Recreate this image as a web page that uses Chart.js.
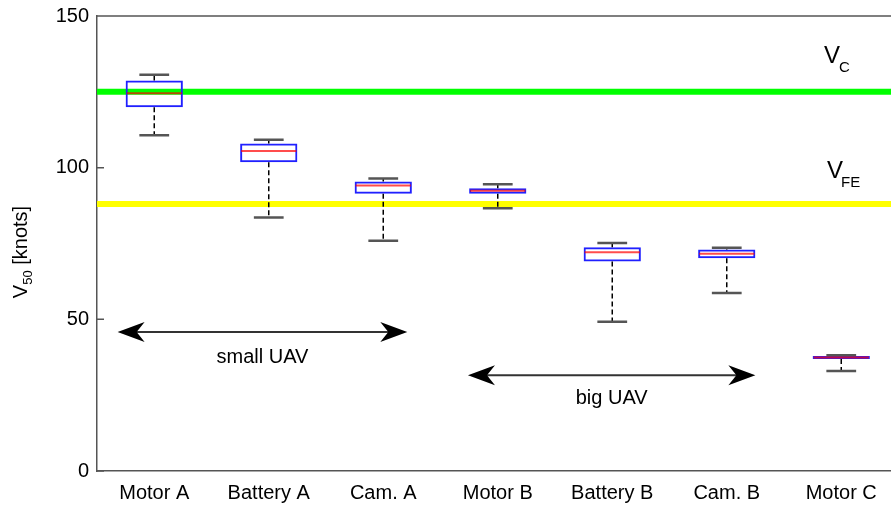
<!DOCTYPE html>
<html>
<head>
<meta charset="utf-8">
<script src="https://cdn.jsdelivr.net/npm/chart.js@4.4.1/dist/chart.umd.min.js"></script>
<style>
  html, body { margin: 0; padding: 0; background: #fff; overflow: hidden; }
  #wrap { width: 891px; height: 510px; overflow: hidden; }
  canvas { display: block; }
</style>
</head>
<body>
<div id="wrap"><canvas id="c" width="900" height="510"></canvas></div>
<script>
// Box-plot statistics of V50 per test item
const categories  = ['Motor A', 'Battery A', 'Cam. A', 'Motor B', 'Battery B', 'Cam. B', 'Motor C'];
const whiskerLow  = [110.7, 83.6, 75.9, 86.6, 49.2, 58.7, 33.0];
const q1          = [119.9, 101.8, 91.4, 91.4, 69.1, 70.1, 36.9];
const median      = [124.5, 105.5, 94.1, 92.4, 72.1, 71.6, 37.4];
const q3          = [128.7, 108.0, 95.4, 93.2, 73.8, 73.0, 37.9];
const whiskerHigh = [130.6, 109.2, 96.4, 94.5, 75.2, 73.6, 38.2];
const yTicks      = [0, 50, 100, 150];

// Reference speeds
const vC  = 125;
const vFE = 88;

// Group arrows (category-index space, value space)
const groups = [
  { text: 'small UAV', from: -0.32, to: 2.21, y: 45.8, textY: 37.5 },
  { text: 'big UAV',   from: 2.74,  to: 5.25, y: 31.6, textY: 24.0 }
];

const FONT = '"Liberation Sans", Arial, sans-serif';
const AXIS = '#555555';

function xAt(scale, idx) {
  // fractional category positions through the category scale
  const p0 = scale.getPixelForValue(0);
  const p1 = scale.getPixelForValue(1);
  return p0 + (p1 - p0) * idx;
}

function arrowHead(ctx, tipX, y, dir) {
  const L = 27, W = 10, notch = 8;
  ctx.beginPath();
  ctx.moveTo(tipX, y);
  ctx.lineTo(tipX + dir * L, y - W);
  ctx.lineTo(tipX + dir * (L - notch), y);
  ctx.lineTo(tipX + dir * L, y + W);
  ctx.closePath();
  ctx.fill();
}

const boxPlugin = {
  id: 'boxExtras',
  beforeDatasetsDraw(chart) {
    const { ctx, chartArea: a, scales: { y } } = chart;
    ctx.save();
    ctx.lineWidth = 6;
    ctx.strokeStyle = '#00ff00';
    ctx.beginPath();
    ctx.moveTo(a.left, y.getPixelForValue(vC));
    ctx.lineTo(a.right, y.getPixelForValue(vC));
    ctx.stroke();
    ctx.strokeStyle = '#ffff00';
    ctx.beginPath();
    ctx.moveTo(a.left, y.getPixelForValue(vFE));
    ctx.lineTo(a.right, y.getPixelForValue(vFE));
    ctx.stroke();
    ctx.restore();
  },
  afterDatasetsDraw(chart) {
    const { ctx, chartArea: a, scales: { x, y } } = chart;
    const step = xAt(x, 1) - xAt(x, 0);
    const boxHalf = step * 0.25;
    const capHalf = step * 0.13;
    ctx.save();

    categories.forEach((c, i) => {
      const cx = x.getPixelForValue(i);
      // whiskers
      ctx.strokeStyle = '#000';
      ctx.lineWidth = 1.5;
      ctx.setLineDash([5, 3]);
      ctx.beginPath();
      ctx.moveTo(cx, y.getPixelForValue(q1[i]));
      ctx.lineTo(cx, y.getPixelForValue(whiskerLow[i]));
      ctx.moveTo(cx, y.getPixelForValue(q3[i]));
      ctx.lineTo(cx, y.getPixelForValue(whiskerHigh[i]));
      ctx.stroke();
      ctx.setLineDash([]);
      // caps
      ctx.strokeStyle = AXIS;
      ctx.lineWidth = 2.5;
      ctx.beginPath();
      [whiskerLow[i], whiskerHigh[i]].forEach(v => {
        const py = y.getPixelForValue(v);
        ctx.moveTo(cx - capHalf, py);
        ctx.lineTo(cx + capHalf, py);
      });
      ctx.stroke();
      // median
      ctx.strokeStyle = 'rgba(255,0,0,0.7)';
      ctx.lineWidth = 2;
      ctx.beginPath();
      const my = y.getPixelForValue(median[i]);
      ctx.moveTo(cx - boxHalf + 1, my);
      ctx.lineTo(cx + boxHalf - 1, my);
      ctx.stroke();
    });

    // group arrows and labels
    ctx.fillStyle = '#000';
    ctx.strokeStyle = '#333';
    ctx.lineWidth = 2;
    ctx.font = '20px ' + FONT;
    ctx.textAlign = 'center';
    ctx.textBaseline = 'middle';
    groups.forEach(g => {
      const x0 = xAt(x, g.from), x1 = xAt(x, g.to);
      const py = y.getPixelForValue(g.y);
      ctx.beginPath();
      ctx.moveTo(x0 + 10, py);
      ctx.lineTo(x1 - 10, py);
      ctx.stroke();
      arrowHead(ctx, x0, py, 1);
      arrowHead(ctx, x1, py, -1);
      ctx.fillText(g.text, (x0 + x1) / 2, y.getPixelForValue(g.textY));
    });

    // reference line labels
    ctx.textAlign = 'left';
    ctx.textBaseline = 'alphabetic';
    const lx = xAt(x, 5.85);
    const pc = y.getPixelForValue(vC), pf = y.getPixelForValue(vFE);
    ctx.font = '24px ' + FONT;
    ctx.fillText('V', lx, pc - 29);
    ctx.fillText('V', lx + 3, pf - 26);
    ctx.font = '15px ' + FONT;
    ctx.fillText('C', lx + 15, pc - 20);
    ctx.fillText('FE', lx + 17, pf - 17);

    // frame: top edge and inward ticks
    ctx.strokeStyle = AXIS;
    ctx.lineWidth = 1.5;
    ctx.beginPath();
    ctx.moveTo(a.left, a.top);
    ctx.lineTo(a.right, a.top);
    ctx.moveTo(a.right, a.top);
    ctx.lineTo(a.right, a.bottom);
    yTicks.forEach(v => {
      const py = y.getPixelForValue(v);
      ctx.moveTo(a.left, py);
      ctx.lineTo(a.left + 7, py);
      ctx.moveTo(a.right, py);
      ctx.lineTo(a.right - 7, py);
    });
    ctx.stroke();

    // y-axis title with subscript
    ctx.save();
    ctx.translate(27, 252);
    ctx.rotate(-Math.PI / 2);
    ctx.fillStyle = '#000';
    ctx.textBaseline = 'alphabetic';
    const big = '20px ' + FONT, small = '13px ' + FONT;
    ctx.font = big; const wV = ctx.measureText('V').width;
    ctx.font = small; const wS = ctx.measureText('50').width;
    ctx.font = big; const wR = ctx.measureText(' [knots]').width;
    let tx = -(wV + wS + wR) / 2;
    ctx.font = big; ctx.fillText('V', tx, 0); tx += wV;
    ctx.font = small; ctx.fillText('50', tx, 5); tx += wS;
    ctx.font = big; ctx.fillText(' [knots]', tx, 0);
    ctx.restore();

    ctx.restore();
  }
};

new Chart(document.getElementById('c'), {
  type: 'bar',
  data: {
    labels: categories,
    datasets: [{
      label: 'V50',
      data: q1.map((v, i) => [v, q3[i]]),
      backgroundColor: 'rgba(0,0,0,0)',
      borderColor: '#2020ff',
      borderWidth: 2,
      borderSkipped: false,
      barPercentage: 0.5,
      categoryPercentage: 1
    }]
  },
  options: {
    responsive: false,
    animation: false,
    events: [],
    layout: { padding: { top: 16, right: 1.5, left: 0, bottom: 0 } },
    plugins: { legend: { display: false }, tooltip: { enabled: false } },
    scales: {
      x: {
        type: 'category',
        offset: true,
        grid: { display: false, drawTicks: false },
        border: { display: true, color: AXIS, width: 1.5 },
        ticks: { color: '#000', font: { family: FONT, size: 20 }, padding: 10, maxRotation: 0 },
        afterFit(s) { s.height = 39; s.paddingLeft = 0; s.paddingRight = 0; }
      },
      y: {
        min: 0, max: 150,
        afterBuildTicks(s) { s.ticks = yTicks.map(v => ({ value: v })); },
        grid: { display: false, drawTicks: false },
        border: { display: true, color: AXIS, width: 1.5 },
        ticks: { color: '#000', font: { family: FONT, size: 20 }, padding: 8 },
        afterFit(s) { s.width = 97; s.paddingTop = 0; s.paddingBottom = 0; }
      }
    }
  },
  plugins: [boxPlugin]
});
</script>
</body>
</html>
